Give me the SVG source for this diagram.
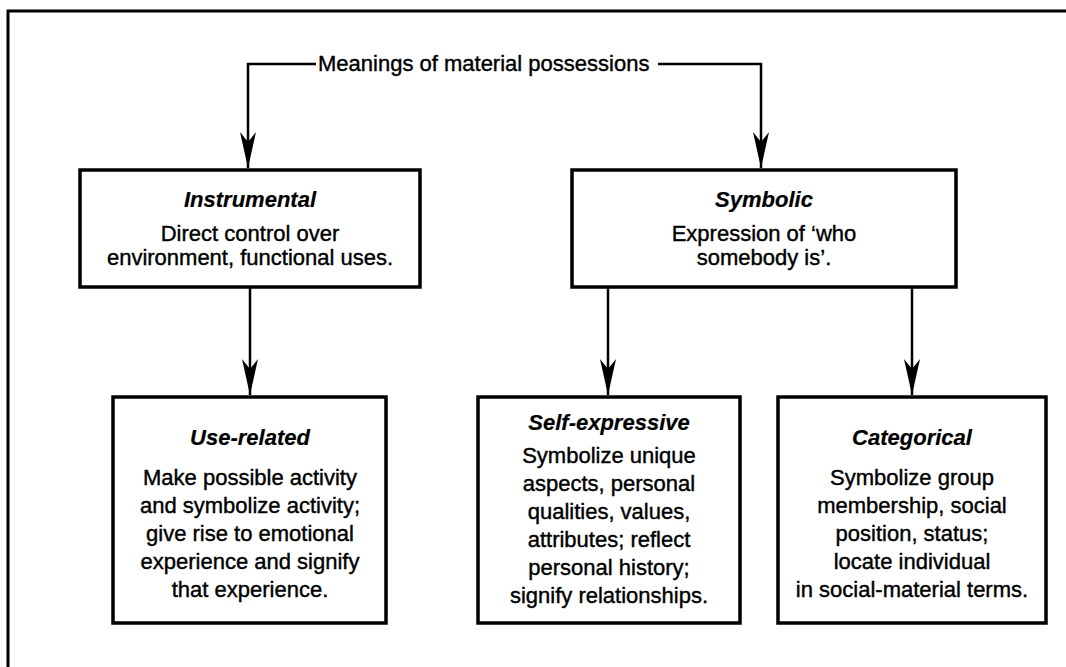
<svg xmlns="http://www.w3.org/2000/svg" width="1066" height="667" viewBox="0 0 1066 667">
  <defs>
    <style>
      .frame{fill:none;stroke:#000;stroke-width:3}
      .box{fill:#fff;stroke:#000;stroke-width:3.5}
      .wire{fill:none;stroke:#000;stroke-width:2.5}
      text{font-family:"Liberation Sans",Arial,Helvetica,sans-serif;font-size:22px;fill:#000;stroke:#000;stroke-width:0.4;text-anchor:middle}
      .hd{font-weight:bold;font-style:italic;stroke-width:0.2}
      .title{text-anchor:start}
    </style>
    <marker id="head" markerUnits="userSpaceOnUse" markerWidth="40" markerHeight="20" viewBox="-38 -9 40 18" refX="0" refY="0" orient="auto">
      <path d="M0,0 L-36,-8 L-26,0 L-36,8 Z" fill="#000"/>
    </marker>
  </defs>

  <rect width="1066" height="667" fill="#fff"/>
  <!-- page frame, cut off at right and bottom -->
  <rect class="frame" x="8" y="11" width="1100" height="700"/>

  <g id="title">
    <text class="title" x="318" y="71">Meanings of material possessions</text>
  </g>

  <g id="connectors">
    <path class="wire" d="M316,64 H248 V168" marker-end="url(#head)"/>
    <path class="wire" d="M658,64 H761 V168" marker-end="url(#head)"/>
    <path class="wire" d="M250,287 V395" marker-end="url(#head)"/>
    <path class="wire" d="M608,287 V395" marker-end="url(#head)"/>
    <path class="wire" d="M912,287 V395" marker-end="url(#head)"/>
  </g>

  <g id="instrumental">
    <rect class="box" x="80" y="170" width="340" height="117"/>
    <text class="hd" x="250" y="207">Instrumental</text>
    <text x="250" y="241">Direct control over</text>
    <text x="250" y="265">environment, functional uses.</text>
  </g>

  <g id="symbolic">
    <rect class="box" x="572" y="170" width="384" height="117"/>
    <text class="hd" x="764" y="207">Symbolic</text>
    <text x="764" y="241">Expression of ‘who</text>
    <text x="764" y="265">somebody is’.</text>
  </g>

  <g id="use-related">
    <rect class="box" x="113" y="397" width="273" height="226"/>
    <text class="hd" x="250" y="445">Use-related</text>
    <text x="250" y="485">Make possible activity</text>
    <text x="250" y="513">and symbolize activity;</text>
    <text x="250" y="541">give rise to emotional</text>
    <text x="250" y="569">experience and signify</text>
    <text x="250" y="597">that experience.</text>
  </g>

  <g id="self-expressive">
    <rect class="box" x="478" y="397" width="262" height="226"/>
    <text class="hd" x="609" y="430">Self-expressive</text>
    <text x="609" y="463">Symbolize unique</text>
    <text x="609" y="491">aspects, personal</text>
    <text x="609" y="519">qualities, values,</text>
    <text x="609" y="547">attributes; reflect</text>
    <text x="609" y="575">personal history;</text>
    <text x="609" y="603">signify relationships.</text>
  </g>

  <g id="categorical">
    <rect class="box" x="778" y="397" width="268" height="226"/>
    <text class="hd" x="912" y="445">Categorical</text>
    <text x="912" y="485">Symbolize group</text>
    <text x="912" y="513">membership, social</text>
    <text x="912" y="541">position, status;</text>
    <text x="912" y="569">locate individual</text>
    <text x="912" y="597">in social-material terms.</text>
  </g>
</svg>
